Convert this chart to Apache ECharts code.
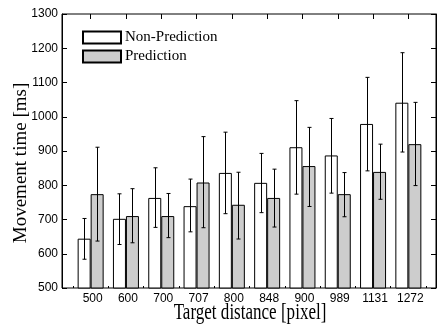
<!DOCTYPE html>
<html>
<head>
<meta charset="utf-8">
<script src="https://cdn.jsdelivr.net/npm/echarts@6/dist/echarts.min.js"></script>
<style>
  html, body {margin: 0; padding: 0; background: #fff;}
  #chart {width: 437px; height: 326px;}
</style>
</head>
<body>
<div id="chart"></div>
<script>
// target distance categories [pixel]
const categories = ['500', '600', '700', '707', '800', '848', '900', '989', '1131', '1272'];

// movement time [ms]
const nonPred = [644, 702, 763, 739, 836, 807, 911, 887, 979, 1041];
const nonPredLow = [584, 627, 677, 664, 717, 720, 774, 777, 842, 897];
const nonPredHigh = [703, 775, 851, 818, 955, 893, 1047, 995, 1115, 1187];

const pred = [774, 710, 710, 808, 743, 763, 856, 774, 839, 920];
const predLow = [637, 632, 647, 676, 643, 678, 738, 708, 759, 799];
const predHigh = [911, 790, 776, 942, 838, 847, 969, 837, 920, 1042];

const yTicks = {min: 500, max: 1300, interval: 100};

const BAR_W = 13;
const serif = 'Liberation Serif';
const sans = 'Liberation Sans';

function errorBars(name, low, high, offset) {
  return {
    name: name + ' error',
    type: 'custom',
    xAxisIndex: 0,
    yAxisIndex: 2,
    z: 5,
    data: categories.map((c, i) => [i, low[i], high[i]]),
    encode: {x: 0, y: [1, 2]},
    renderItem(params, api) {
      const lo = api.coord([api.value(0), api.value(1)]);
      const hi = api.coord([api.value(0), api.value(2)]);
      const x = Math.round(lo[0] + offset) + 0.5;
      const cap = 2;
      const style = {stroke: '#000', lineWidth: 1};
      return {
        type: 'group',
        children: [
          {type: 'line', shape: {x1: x, y1: lo[1], x2: x, y2: hi[1]}, style},
          {type: 'line', shape: {x1: x - cap, y1: lo[1], x2: x + cap, y2: lo[1]}, style},
          {type: 'line', shape: {x1: x - cap, y1: hi[1], x2: x + cap, y2: hi[1]}, style}
        ]
      };
    }
  };
}

const chart = echarts.init(document.getElementById('chart'));
chart.setOption({
  animation: false,
  backgroundColor: '#fff',
  grid: [
    // bars
    {left: 73, top: 14, width: 353, height: 274},
    // outer frame
    {left: 62, top: 14, width: 374, height: 274, show: true,
      borderColor: '#000', borderWidth: 1, backgroundColor: 'transparent'}
  ],
  legend: {
    orient: 'vertical',
    left: 82,
    top: 30,
    padding: 0,
    itemWidth: 38,
    itemHeight: 12,
    itemGap: 4,
    icon: 'rect',
    data: ['Non-Prediction', 'Prediction'],
    textStyle: {fontFamily: serif, fontSize: 15, color: '#000', padding: [0, 0, 0, -1]}
  },
  xAxis: [
    {
      type: 'category',
      gridIndex: 0,
      data: categories,
      position: 'bottom',
      axisLine: {show: false},
      axisTick: {show: true, inside: true, length: 2, lineStyle: {color: '#000'}},
      axisLabel: {color: '#000', fontFamily: sans, fontSize: 12, margin: 5, padding: [0, 0, 0, 4]}
    },
    {
      type: 'category',
      gridIndex: 0,
      data: categories,
      position: 'top',
      axisLine: {show: false},
      axisTick: {show: true, inside: true, length: 5, alignWithLabel: true, lineStyle: {color: '#000'}},
      axisLabel: {show: false}
    },
    {type: 'value', gridIndex: 1, show: false, min: 0, max: 1}
  ],
  yAxis: [
    {
      type: 'value', gridIndex: 1, position: 'left',
      min: yTicks.min, max: yTicks.max, interval: yTicks.interval,
      axisLine: {show: true, lineStyle: {color: '#000'}},
      axisTick: {show: true, inside: true, length: 5, lineStyle: {color: '#000'}},
      axisLabel: {color: '#000', fontFamily: sans, fontSize: 12, margin: 4,
        formatter: v => String(v)},
      splitLine: {show: false}
    },
    {
      type: 'value', gridIndex: 1, position: 'right',
      min: yTicks.min, max: yTicks.max, interval: yTicks.interval,
      axisLine: {show: true, lineStyle: {color: '#000'}},
      axisTick: {show: true, inside: true, length: 5, lineStyle: {color: '#000'}},
      axisLabel: {show: false},
      splitLine: {show: false}
    },
    {type: 'value', gridIndex: 0, show: false, min: yTicks.min, max: yTicks.max}
  ],
  graphic: [
    {
      type: 'text', x: 21, y: 163, rotation: Math.PI / 2,
      style: {text: 'Movement time [ms]', fontFamily: serif, fontSize: 19, fill: '#000',
        align: 'center', verticalAlign: 'middle'}
    },
    {
      type: 'text', x: 250, y: 313, scaleX: 0.71,
      style: {text: 'Target distance [pixel]', fontFamily: serif, fontSize: 24, fill: '#000',
        align: 'center', verticalAlign: 'middle'}
    }
  ],
  series: [
    {
      name: 'Non-Prediction', type: 'bar', xAxisIndex: 0, yAxisIndex: 2,
      data: nonPred, barWidth: BAR_W, barGap: '0%',
      itemStyle: {color: '#fff', borderColor: '#000', borderWidth: 1}
    },
    {
      name: 'Prediction', type: 'bar', xAxisIndex: 0, yAxisIndex: 2,
      data: pred, barWidth: BAR_W, barGap: '0%',
      itemStyle: {color: '#cdcdcd', borderColor: '#000', borderWidth: 1}
    },
    errorBars('Non-Prediction', nonPredLow, nonPredHigh, -BAR_W / 2),
    errorBars('Prediction', predLow, predHigh, BAR_W / 2)
  ]
});
</script>
</body>
</html>
